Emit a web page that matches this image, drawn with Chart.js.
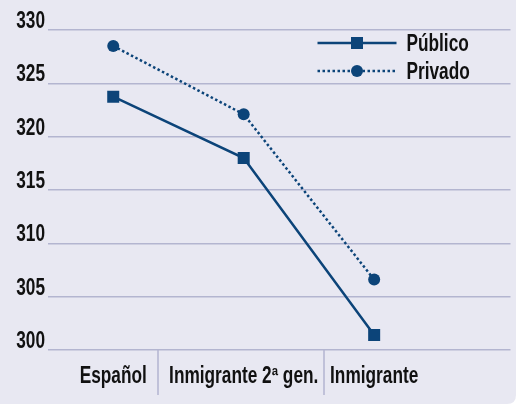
<!DOCTYPE html>
<html><head><meta charset="utf-8">
<script src="https://cdn.jsdelivr.net/npm/chart.js@4/dist/chart.umd.min.js"></script>
<style>
html,body{margin:0;padding:0;background:#fff;}
#wrap{position:absolute;left:0;top:0;width:519px;height:404px;}
</style></head><body>
<div id="wrap"><canvas id="c" width="519" height="404"></canvas></div>
<script>
const categories = ['Español', 'Inmigrante 2ª gen.', 'Inmigrante'];
const publico = [323.75, 318.0, 301.4];
const privado = [328.5, 322.1, 306.6];
const yTicks = [300, 305, 310, 315, 320, 325, 330];
const seriesNames = ['Público', 'Privado'];

const FONT = 'bold 23px "Liberation Sans", Arial, sans-serif';
const SQ = 0.75; // horizontal condensing of text
const BLUE = '#0c4479';
const GRID = '#b3b5d0';
const BG = '#e8e8f2';

function text(ctx, s, x, y, align, baseline) {
  ctx.save();
  ctx.font = FONT;
  ctx.textAlign = align;
  ctx.textBaseline = baseline;
  ctx.translate(x, y);
  ctx.scale(SQ, 1);
  ctx.fillText(s, 0, 0);
  ctx.restore();
}
function textWidth(ctx, s) {
  ctx.save(); ctx.font = FONT;
  const w = ctx.measureText(s).width * SQ;
  ctx.restore(); return w;
}

const bgPlugin = {
  id: 'bg',
  beforeDraw(chart) {
    const ctx = chart.ctx;
    const w = 516, h = chart.height, r = 9;
    ctx.save();
    ctx.fillStyle = BG;
    ctx.beginPath();
    ctx.moveTo(0, 0);
    ctx.lineTo(w, 0);
    ctx.lineTo(w, h - r);
    ctx.quadraticCurveTo(w, h, w - r, h);
    ctx.lineTo(0, h);
    ctx.closePath();
    ctx.fill();
    ctx.restore();
  }
};

const decoPlugin = {
  id: 'deco',
  afterDraw(chart) {
    const ctx = chart.ctx;
    const xs = chart.scales.x, ys = chart.scales.y;
    const ca = chart.chartArea;
    ctx.save();
    ctx.fillStyle = '#111';
    yTicks.forEach(v => {
      text(ctx, String(v), ca.left - 3, ys.getPixelForValue(v) - 2, 'right', 'alphabetic');
    });
    const edges = [];
    categories.forEach((c, i) => {
      const px = xs.getPixelForValue(i);
      text(ctx, c, px, ca.bottom + 33, 'center', 'alphabetic');
      const w = textWidth(ctx, c);
      edges.push([px - w / 2, px + w / 2]);
    });
    ctx.strokeStyle = GRID;
    ctx.lineWidth = 1.5;
    for (let i = 0; i < edges.length - 1; i++) {
      const sx = Math.round((edges[i][1] + edges[i + 1][0]) / 2);
      ctx.beginPath();
      ctx.moveTo(sx, ca.bottom);
      ctx.lineTo(sx, ca.bottom + 45);
      ctx.stroke();
    }
    const lx0 = ca.right - 193, lx1 = ca.right - 114, tx = ca.right - 104;
    const rows = [ca.top + 13, ca.top + 41];
    chart.data.datasets.forEach((ds, i) => {
      const y = rows[i];
      ctx.save();
      ctx.strokeStyle = ds.borderColor;
      ctx.lineWidth = ds.borderWidth;
      ctx.setLineDash(ds.borderDash || []);
      ctx.beginPath();
      ctx.moveTo(lx0, y);
      ctx.lineTo(lx1, y);
      ctx.stroke();
      ctx.restore();
      ctx.fillStyle = BLUE;
      ctx.strokeStyle = BLUE;
      Chart.helpers.drawPoint(ctx, {pointStyle: ds.pointStyle, radius: ds.pointRadius, borderWidth: 0}, (lx0 + lx1) / 2, y);
      ctx.fillStyle = '#111';
      text(ctx, ds.label, tx, y + 8, 'left', 'alphabetic');
    });
    ctx.restore();
  }
};

new Chart(document.getElementById('c'), {
  type: 'line',
  data: {
    datasets: [
      {
        label: seriesNames[0],
        data: publico.map((v, i) => ({x: i, y: v})),
        borderColor: BLUE, backgroundColor: BLUE,
        borderWidth: 2.5, pointStyle: 'rect', pointRadius: 8.5,
        pointBorderWidth: 0, tension: 0
      },
      {
        label: seriesNames[1],
        data: privado.map((v, i) => ({x: i, y: v})),
        borderColor: BLUE, backgroundColor: BLUE,
        borderWidth: 2.5, borderDash: [2.5, 2.5], pointStyle: 'circle', pointRadius: 6,
        pointBorderWidth: 0, tension: 0
      }
    ]
  },
  options: {
    responsive: false,
    animation: false,
    events: [],
    layout: {padding: {top: 30, right: 3, left: 0, bottom: 0}},
    plugins: {legend: {display: false}, tooltip: {enabled: false}},
    scales: {
      x: {
        type: 'linear', min: -0.5, max: 3.045,
        afterBuildTicks(s) { s.ticks = categories.map((c, i) => ({value: i})); },
        afterFit(s) { s.height = 54; },
        grid: {display: false},
        border: {display: false},
        ticks: {display: false}
      },
      y: {
        min: 300, max: 330,
        afterBuildTicks(s) { s.ticks = yTicks.map(v => ({value: v})); },
        afterFit(s) { s.width = 48; },
        grid: {color: GRID, lineWidth: 1.5, drawTicks: false},
        border: {display: false},
        ticks: {display: false}
      }
    }
  },
  plugins: [bgPlugin, decoPlugin]
});
</script>
</body></html>
